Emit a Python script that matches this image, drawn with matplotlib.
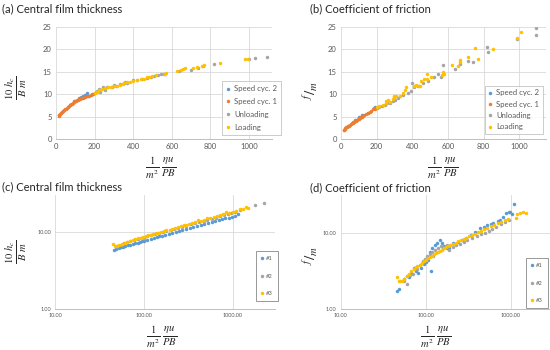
import matplotlib
matplotlib.use("Agg")
import matplotlib.pyplot as plt
from matplotlib.ticker import FixedLocator, FuncFormatter

plt.rcParams['font.family'] = ['Lato', 'DejaVu Sans']
plt.rcParams['mathtext.fontset'] = 'stix'

# colours of the Excel palette
c_blue = '#5B9BD5'
c_orange = '#ED7D31'
c_gray = '#A5A5A5'
c_yellow = '#FFC000'
txt_gray = '#595959'
grid_gray = '#D9D9D9'

# (a) Central film thickness
a_spd2_x = [18, 35, 60, 95, 120, 130, 140, 150, 160, 165, 185]
a_spd2_y = [5.3, 6.3, 7.2, 8.4, 9.1, 9.3, 9.7, 9.8, 10.2, 9.5, 10.0]
a_spd1_x = [15, 18, 22, 25, 28, 32, 36, 40, 45, 50, 55, 60, 65, 70, 75, 80, 85, 90,
            95, 100, 105, 110, 115, 120, 125, 130, 135, 140, 145, 150, 160, 170, 180, 190, 200]
a_spd1_y = [5.1, 5.3, 5.5, 5.7, 5.9, 6.1, 6.3, 6.4, 6.6, 6.8, 7.0, 7.1, 7.3, 7.5, 7.6, 7.8, 7.9, 8.1,
            8.2, 8.4, 8.5, 8.6, 8.8, 9.0, 9.0, 9.1, 9.1, 9.2, 9.3, 9.4, 9.6, 9.7, 9.9, 10.0, 10.2]
a_unl_x = [205, 215, 225, 230, 245, 255, 265, 290, 300, 310, 330, 350, 360, 370, 400, 420,
           445, 470, 490, 510, 530, 545, 560, 640, 700, 735, 760, 820, 1000, 1030, 1095]
a_unl_y = [10.5, 10.8, 11.2, 10.4, 11.6, 11.0, 11.7, 11.6, 12.1, 11.8, 12.2, 12.4, 12.8, 12.6, 13.1, 13.2,
           13.5, 13.6, 13.9, 14.1, 14.3, 14.5, 14.6, 15.1, 15.5, 15.8, 16.2, 16.7, 17.8, 18.0, 18.3]
a_load_x = [200, 210, 225, 240, 255, 270, 285, 300, 315, 330, 345, 355, 370, 385, 400, 420, 440, 455,
            470, 480, 500, 520, 565, 570, 625, 650, 660, 670, 710, 730, 755, 770, 850, 980, 995]
a_load_y = [10.3, 10.6, 10.9, 11.2, 11.3, 11.5, 11.6, 11.8, 11.9, 12.0, 12.2, 12.5, 12.7, 12.7, 12.9, 13.1, 13.3, 13.5,
            13.8, 13.9, 14.0, 14.2, 14.6, 14.8, 15.1, 15.3, 15.6, 15.8, 15.9, 16.1, 16.3, 16.5, 17.0, 17.8, 17.8]

# (b) Coefficient of friction
b_spd2_x = [40, 80, 100, 120, 150, 185, 190]
b_spd2_y = [3.0, 4.3, 4.8, 5.3, 5.9, 6.9, 7.1]
b_spd1_x = [15, 18, 20, 25, 30, 35, 40, 45, 50, 55, 60, 65, 70, 75, 80, 85, 90, 95, 100, 105,
            110, 115, 120, 125, 130, 140, 150, 160, 170, 180, 190]
b_spd1_y = [1.9, 2.1, 2.3, 2.4, 2.6, 2.7, 2.9, 3.0, 3.2, 3.3, 3.5, 3.6, 3.8, 3.9, 4.0, 4.1, 4.3, 4.4, 4.5, 4.7,
            4.8, 5.0, 5.2, 5.2, 5.3, 5.5, 5.8, 6.0, 6.3, 6.6, 6.8]
b_unl_x = [200, 215, 230, 245, 260, 275, 290, 305, 320, 350, 375, 390, 400, 410, 430, 460, 490,
           520, 545, 560, 570, 640, 670, 710, 740, 820, 822, 990, 1095, 1095]
b_unl_y = [7.0, 7.2, 7.4, 7.7, 8.0, 8.1, 8.4, 8.7, 9.1, 9.8, 10.3, 10.8, 12.6, 11.5, 11.9, 12.4, 13.0,
           13.9, 14.5, 13.8, 16.5, 15.7, 16.8, 17.4, 17.2, 20.6, 19.4, 22.3, 24.7, 23.3]
b_load_x = [200, 215, 235, 250, 255, 265, 275, 290, 295, 300, 310, 330, 350, 360, 365, 410, 420, 435, 445,
            450, 465, 480, 485, 505, 565, 570, 575, 620, 655, 665, 670, 715, 750, 770, 850, 985, 1010]
b_load_y = [7.2, 7.4, 7.6, 8.1, 8.4, 8.6, 8.2, 9.0, 9.6, 9.3, 9.5, 9.6, 10.2, 11.0, 11.5, 11.9, 12.0, 11.8, 11.9,
            13.0, 13.5, 13.3, 14.4, 13.8, 14.3, 14.9, 14.6, 16.5, 16.4, 17.2, 17.6, 18.2, 20.4, 17.8, 20.2, 22.6, 23.9]

# (c) Central film thickness, log-log
c_s1_x = [46, 48, 52, 55, 58, 62, 66, 70, 75, 80, 85, 90, 95, 100, 110, 120, 130, 140, 150, 160, 175,
          190, 210, 230, 250, 270, 300, 330, 360, 400, 440, 480, 530, 580, 640, 700, 760, 830, 900, 980, 1050, 1150]
c_s1_y = [5.9, 6.0, 6.1, 6.3, 6.3, 6.5, 6.7, 6.8, 6.9, 7.1, 7.2, 7.4, 7.5, 7.6, 7.9, 8.1, 8.3, 8.5, 8.7, 8.9, 9.2,
          9.4, 9.7, 10.0, 10.3, 10.5, 10.9, 11.2, 11.5, 11.9, 12.2, 12.6, 13.0, 13.4, 13.8, 14.3, 14.6, 15.0, 15.3, 15.7, 16.1, 16.8]
c_s2_x = [50, 55, 60, 65, 70, 78, 85, 92, 100, 110, 120, 135, 150, 165, 180, 200, 220, 245, 270, 300,
          340, 380, 420, 470, 520, 580, 650, 720, 800, 880, 960, 1050, 1200, 1800, 2240]
c_s2_y = [6.5, 6.7, 7.2, 7.3, 7.5, 7.8, 8.0, 8.2, 8.4, 8.7, 9.0, 9.3, 9.6, 9.9, 10.2, 10.6, 10.9, 11.3, 11.6, 12.0,
          12.5, 12.9, 13.3, 13.8, 14.2, 14.8, 15.3, 15.9, 16.5, 17.0, 17.5, 18.1, 19.2, 22.0, 23.6]
c_s3_x = [45, 47, 50, 53, 57, 61, 65, 70, 75, 80, 86, 92, 98, 105, 112, 120, 128, 137, 146, 156, 167, 180,
          195, 210, 225, 240, 260, 280, 300, 325, 350, 380, 410, 440, 480, 520, 560, 610, 660, 720, 780, 850,
          920, 1000, 1100, 1200, 1300, 1400, 1500]
c_s3_y = [6.9, 6.5, 6.6, 6.8, 7.0, 7.2, 7.4, 7.6, 7.8, 8.0, 8.2, 8.4, 8.6, 8.8, 9.0, 9.2, 9.4, 9.6, 9.8, 10.0, 10.2, 10.5,
          10.7, 11.0, 11.3, 11.5, 11.8, 12.1, 12.4, 12.7, 13.0, 13.3, 14.1, 13.9, 14.3, 15.2, 15.0, 15.5, 16.1, 16.6, 17.0, 17.9,
          17.6, 17.9, 18.8, 19.5, 20.0, 20.8, 20.6]

# (d) Coefficient of friction, log-log
d_s1_x = [46, 48, 55, 60, 64, 68, 72, 76, 82, 88, 95, 100, 106, 112, 115, 120, 128, 135, 147, 155, 165,
          177, 190, 210, 240, 270, 300, 340, 380, 436, 480, 530, 580, 624, 700, 748, 820, 890, 950, 980, 1050, 1100]
d_s1_y = [1.7, 1.8, 2.5, 2.7, 2.6, 3.0, 3.4, 3.1, 3.0, 3.4, 3.9, 4.1, 4.4, 5.6, 3.1, 6.2, 6.8, 7.4, 8.0, 7.3, 6.6,
          6.2, 6.2, 7.2, 7.6, 7.9, 8.4, 9.2, 10.2, 11.4, 11.8, 12.6, 12.9, 13.3, 14.1, 14.7, 16.0, 17.9, 18.3, 18.8, 17.5, 23.8]
d_s2_x = [55, 61, 65, 70, 75, 80, 86, 92, 98, 105, 112, 118, 123, 130, 140, 150, 160, 177, 190, 210,
          230, 250, 280, 310, 350, 400, 450, 500, 550, 600, 680, 760, 850, 950]
d_s2_y = [2.3, 2.1, 2.8, 2.9, 3.4, 3.3, 3.8, 4.2, 4.5, 4.9, 5.3, 5.6, 4.9, 6.0, 6.3, 6.6, 6.2, 6.9, 6.0, 6.4,
          6.8, 7.0, 7.5, 8.0, 8.4, 9.1, 9.6, 10.0, 10.5, 11.2, 12.0, 12.8, 13.6, 14.5]
d_s3_x = [46, 48, 50, 53, 56, 60, 64, 68, 72, 76, 80, 85, 90, 95, 100, 106, 112, 118, 125, 132, 140, 148,
          156, 165, 175, 185, 195, 210, 225, 240, 260, 280, 300, 325, 350, 380, 410, 450, 490, 530, 580, 630,
          700, 770, 850, 940, 1150, 1200, 1300, 1400, 1500]
d_s3_y = [2.6, 2.3, 2.3, 2.3, 2.5, 2.7, 2.9, 3.1, 3.3, 3.5, 3.6, 3.8, 4.0, 4.2, 4.4, 4.6, 4.8, 5.0, 5.2, 5.4, 5.6, 5.8,
          6.0, 6.2, 6.4, 6.6, 6.8, 7.1, 7.4, 7.7, 8.0, 8.3, 8.6, 9.0, 9.3, 9.7, 10.1, 10.6, 11.0, 11.5, 12.1, 12.5,
          13.2, 13.8, 14.6, 15.2, 15.4, 17.5, 18.0, 18.5, 18.2]

lin_labels = ['Speed cyc. 2', 'Speed cyc. 1', 'Unloading', 'Loading']
log_labels = ['#1', '#2', '#3']

xlab = r'$\frac{1}{m^2}\,\frac{\eta u}{PB}$'
ylab_h = r'$\frac{10\ h_c}{B\ m}$'
ylab_f = r'${}^{f}/{}_{m}$'

fig = plt.figure(figsize=(5.5, 3.5), dpi=100)
W, H = 550.0, 350.0


def px_axes(left, top, right, bottom):
    return fig.add_axes([left / W, 1 - bottom / H, (right - left) / W, (bottom - top) / H])


def style(ax, fs):
    for s in ['left', 'right', 'top']:
        ax.spines[s].set_visible(False)
    ax.spines['bottom'].set_color('#BFBFBF')
    ax.spines['bottom'].set_linewidth(0.7)
    ax.tick_params(length=0, labelsize=fs, colors=txt_gray, pad=3)
    ax.grid(True, color=grid_gray, linewidth=0.6)
    ax.set_axisbelow(True)


def dots(ax, x, y, c, lab):
    ax.plot(x, y, 'o', ms=2.5, mew=0, color=c, label=lab, linestyle='none')


def legend(ax, left, top, fs, edge, **kw):
    leg = ax.legend(loc='upper left', bbox_to_anchor=(left / W, 1 - top / H), bbox_transform=fig.transFigure,
                    fontsize=fs, frameon=True, fancybox=False, edgecolor=edge, borderaxespad=0, **kw)
    for t in leg.get_texts():
        t.set_color(txt_gray)
    leg.get_frame().set_linewidth(0.7)
    return leg


# panel (a)
ax = px_axes(56, 27, 272, 139)
dots(ax, a_spd2_x, a_spd2_y, c_blue, lin_labels[0])
dots(ax, a_spd1_x, a_spd1_y, c_orange, lin_labels[1])
dots(ax, a_unl_x, a_unl_y, c_gray, lin_labels[2])
dots(ax, a_load_x, a_load_y, c_yellow, lin_labels[3])
ax.set_xlim(0, 1120)
ax.set_ylim(0, 25)
ax.set_xticks([0, 200, 400, 600, 800, 1000])
ax.set_yticks([0, 5, 10, 15, 20, 25])
style(ax, 5.5)
legend(ax, 222, 81, 5.6, '#BFBFBF', handlelength=0.5, handletextpad=0.5,
       labelspacing=0.75, borderpad=0.55)

# panel (b)
ax = px_axes(341, 27, 546, 139)
dots(ax, b_spd2_x, b_spd2_y, c_blue, lin_labels[0])
dots(ax, b_spd1_x, b_spd1_y, c_orange, lin_labels[1])
dots(ax, b_unl_x, b_unl_y, c_gray, lin_labels[2])
dots(ax, b_load_x, b_load_y, c_yellow, lin_labels[3])
ax.set_xlim(0, 1150)
ax.set_ylim(0, 25)
ax.set_xticks([0, 200, 400, 600, 800, 1000])
ax.set_yticks([0, 5, 10, 15, 20, 25])
style(ax, 5.5)
legend(ax, 485, 86, 5.6, '#BFBFBF', handlelength=0.5, handletextpad=0.5,
       labelspacing=0.55, borderpad=0.45)

log_fmt = FuncFormatter(lambda v, p: '%.2f' % v)


def log_axes(ax, xmax, ymax):
    ax.set_xscale('log')
    ax.set_yscale('log')
    ax.set_xlim(10, xmax)
    ax.set_ylim(1, ymax)
    ax.xaxis.set_major_locator(FixedLocator([10, 100, 1000]))
    ax.yaxis.set_major_locator(FixedLocator([1, 10]))
    ax.xaxis.set_minor_locator(FixedLocator([]))
    ax.yaxis.set_minor_locator(FixedLocator([]))
    ax.xaxis.set_major_formatter(log_fmt)
    ax.yaxis.set_major_formatter(log_fmt)
    style(ax, 4)


# panel (c)
ax = px_axes(55, 195, 275, 309)
dots(ax, c_s1_x, c_s1_y, c_blue, log_labels[0])
dots(ax, c_s2_x, c_s2_y, c_gray, log_labels[1])
dots(ax, c_s3_x, c_s3_y, c_yellow, log_labels[2])
log_axes(ax, 3000, 30)
legend(ax, 256, 251, 4.2, '#7F7F7F', handlelength=0.4, handletextpad=0.4,
       labelspacing=2.1, borderpad=0.9)

# panel (d)
ax = px_axes(340.7, 195, 550, 309)
dots(ax, d_s1_x, d_s1_y, c_blue, log_labels[0])
dots(ax, d_s2_x, d_s2_y, c_gray, log_labels[1])
dots(ax, d_s3_x, d_s3_y, c_yellow, log_labels[2])
log_axes(ax, 2900, 31)
legend(ax, 526, 258, 4.2, '#7F7F7F', handlelength=0.4, handletextpad=0.4,
       labelspacing=2.1, borderpad=0.9)

# titles
title_kw = dict(fontsize=8, color='#262626', ha='left', va='center')
fig.text(2 / W, 1 - 9 / H, '(a) Central film thickness', **title_kw)
fig.text(310 / W, 1 - 9 / H, '(b) Coefficient of friction', **title_kw)
fig.text(2 / W, 1 - 187 / H, '(c) Central film thickness', **title_kw)
fig.text(310 / W, 1 - 188 / H, '(d) Coefficient of friction', **title_kw)

# axis labels
lab_kw = dict(fontsize=11, color='#262626', ha='center', va='center')
fig.text(161 / W, 1 - 168 / H, xlab, **lab_kw)
fig.text(443 / W, 1 - 168 / H, xlab, **lab_kw)
fig.text(162 / W, 1 - 337 / H, xlab, **lab_kw)
fig.text(436 / W, 1 - 337 / H, xlab, **lab_kw)
fig.text(16 / W, 1 - 88 / H, ylab_h, rotation=90, **lab_kw)
fig.text(16 / W, 1 - 252 / H, ylab_h, rotation=90, **lab_kw)
fig.text(310 / W, 1 - 90 / H, ylab_f, rotation=90, **lab_kw)
fig.text(310 / W, 1 - 255 / H, ylab_f, rotation=90, **lab_kw)

fig.savefig('out.png', dpi=100, facecolor='white')
